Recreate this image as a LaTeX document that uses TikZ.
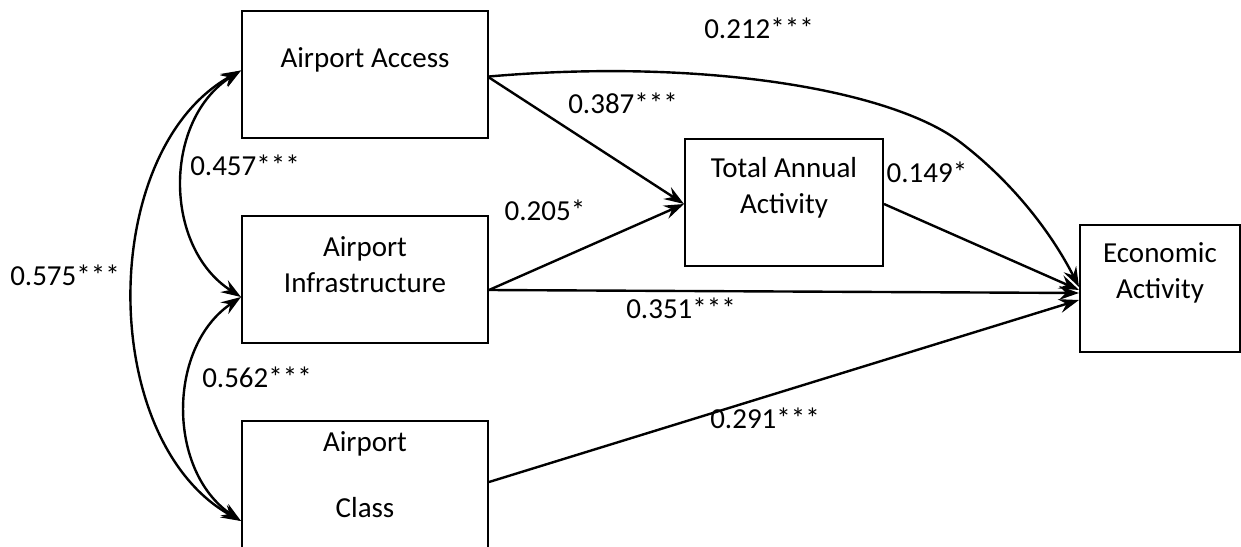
\documentclass[tikz,border=0pt]{standalone}
\usepackage{fontspec}
\setmainfont{Carlito}
\usetikzlibrary{arrows.meta, calc}

\begin{document}
\begin{tikzpicture}[
  x=0.5pt, y=-0.5pt,
  font=\fontsize{14.5}{18}\selectfont,
  box/.style={rectangle, draw, line width=1pt, inner sep=0pt,
              minimum height=63.5pt},
  txt/.style={align=center, inner sep=0pt},
  coef/.style={inner sep=0pt},
  arr/.style={-{Stealth[length=10pt, width=7pt, inset=3.5pt]}, line width=1.2pt},
  dblarr/.style={{Stealth[length=10pt, width=7pt, inset=3.5pt]}-{Stealth[length=10pt, width=7pt, inset=3.5pt]},
                 line width=1.2pt},
]
  \useasboundingbox (0,0) rectangle (1241,546);

  % boxes
  \node[box, minimum width=123pt] (access) at (365,74.5) {};
  \node[box, minimum width=123pt] (infra)  at (365,279)  {};
  \node[box, minimum width=123pt, minimum height=65pt] (class) at (365,486) {};
  \node[box, minimum width=99pt]  (total)  at (784,202)  {};
  \node[box, minimum width=80pt]  (econ)   at (1160,288) {};

  \node[txt] (access-t) at (365,60)    {Airport Access};
  \node[txt] (infra-t)  at (365,265)   {Airport\\Infrastructure};
  \node[txt] (class-t)  at (365,475)   {Airport\\[15pt]Class};
  \node[txt] (total-t)  at (784,187.5) {Total Annual\\Activity};
  \node[txt] (econ-t)   at (1160,273)  {Economic\\Activity};

  % paths
  \coordinate (bend) at (960,142);
  \draw[arr] ([yshift=-1.5pt]access.east) -- ([yshift=-1pt]total.west);
  \draw[arr] ([yshift=-5.5pt]infra.east) -- ([yshift=-1pt]total.west);
  \draw[arr] ([yshift=-5.5pt]infra.east) -- ([yshift=-2.5pt]econ.west);
  \draw[arr] ([yshift=-1pt]total.east) -- ([yshift=-1pt]econ.west);
  \draw[arr] ([yshift=2pt]class.east) -- ([yshift=-6pt]econ.west);
  \draw[arr] ([yshift=-1pt]access.east) .. controls (700,58) and (890,89) .. (bend)
    .. controls (1010,180) and (1050,230) .. ([yshift=0.5pt]econ.west);

  % correlations
  \draw[dblarr] ([yshift=2pt]access.west) .. controls (163,120) and (163,247) .. ([yshift=-9pt]infra.west);
  \draw[dblarr] ([yshift=-9pt]infra.west) .. controls (167,347) and (167,471) .. ([yshift=-17.5pt]class.west);
  \draw[dblarr] ([yshift=2pt]access.west) .. controls (97,150) and (97,441) .. ([yshift=-17.5pt]class.west);

  % coefficients
  \node[coef] (c-ae) at (759,28)  {0.212***};
  \node[coef] (c-at) at (623,103) {0.387***};
  \node[coef] (c-it) at (545,210) {0.205*};
  \node[coef] (c-te) at (927,172) {0.149*};
  \node[coef] (c-ie) at (681,308) {0.351***};
  \node[coef] (c-ce) at (765,418) {0.291***};
  \node[coef] (c-ai) at (245,165) {0.457***};
  \node[coef] (c-ic) at (257,377) {0.562***};
  \node[coef] (c-ac) at (65,275)  {0.575***};
\end{tikzpicture}
\end{document}
